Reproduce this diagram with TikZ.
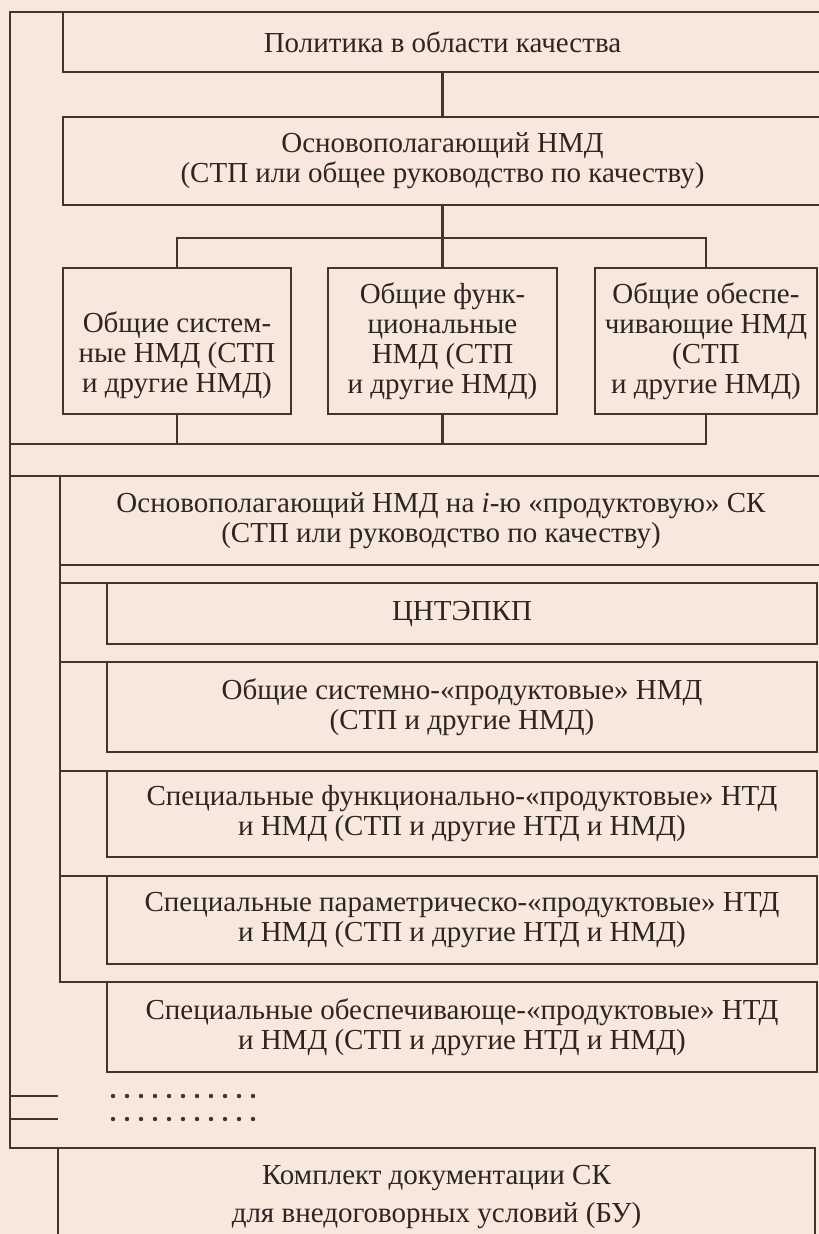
\documentclass[tikz,border=0pt]{standalone}
\usepackage{fontspec}
\setmainfont{Liberation Serif}
\definecolor{paper}{RGB}{247,231,220}
\definecolor{ink}{RGB}{64,54,46}
\definecolor{txt}{RGB}{44,37,33}

\begin{document}
\begin{tikzpicture}[x=1pt,y=-1pt,line width=2.5pt,color=ink,line join=miter,
  box/.style={draw,rectangle,anchor=north west,inner sep=0pt,outer sep=0pt,
    align=center,text=txt,font=\fontsize{29}{30}\selectfont},
  dotrow/.style={line width=4.4pt,line cap=round,dash pattern=on 0pt off 14pt}]
\path[use as bounding box,fill=paper] (0,0) rectangle (819,1234);

\node[box,minimum width=759pt,minimum height=60pt] (pol) at (63,12) {Политика в области качества};
\node[box,minimum width=759pt,minimum height=88pt] (osn) at (63,117) {Основополагающий НМД\\(СТП или общее руководство по качеству)};
\node[box,minimum width=228pt,minimum height=146pt] (gsys) at (63,268) {\\[20pt]Общие систем-\\ные НМД (СТП\\и другие НМД)};
\node[box,minimum width=229pt,minimum height=146pt] (gfun) at (328,268) {Общие функ-\\циональные\\НМД (СТП\\и другие НМД)};
\node[box,minimum width=222pt,minimum height=146pt] (gobs) at (595,268) {Общие обеспе-\\чивающие НМД\\(СТП\\и другие НМД)};

\node[box,minimum width=762pt,minimum height=89pt] (prod) at (60,476) {Основополагающий НМД на \textit{i}-ю «продуктовую» СК\\(СТП или руководство по качеству)};
\node[box,minimum width=710pt,minimum height=61pt] (cntr) at (107,583) {ЦНТЭПКП};
\node[box,minimum width=710pt,minimum height=90pt] (sysprod) at (107,662) {Общие системно-«продуктовые» НМД\\(СТП и другие НМД)};
\node[box,minimum width=710pt,minimum height=86pt] (funprod) at (107,771) {Специальные функционально-«продуктовые» НТД\\и НМД (СТП и другие НТД и НМД)};
\node[box,minimum width=710pt,minimum height=88pt] (parprod) at (107,876) {Специальные параметрическо-«продуктовые» НТД\\и НМД (СТП и другие НТД и НМД)};
\node[box,minimum width=710pt,minimum height=90pt] (obes) at (107,982) {Специальные обеспечивающе-«продуктовые» НТД\\и НМД (СТП и другие НТД и НМД)};
\node[box,minimum width=757pt,minimum height=98pt,font=\fontsize{29}{38}\selectfont] (kompl) at (58,1148) {Комплект документации СК\\для внедоговорных условий (БУ)};

\coordinate (bus) at (0,238);
\coordinate (join) at (10,444);
\coordinate (ftop) at (10,12);
\coordinate (fbot) at (10,1148);
\coordinate (ibot) at (60,982);
\coordinate (d1) at (58,1096);
\coordinate (d2) at (58,1119);

\draw (pol.south) -- (osn.north);
\draw (osn.south) -- (gfun.north);
\draw (gsys.north) -- (gsys.north |- bus) -| (gobs.north);
\draw (gsys.south) -- (gsys.south |- join);
\draw (gfun.south) -- (gfun.south |- join);
\draw (join) -- (gobs.south |- join) -- (gobs.south);

\draw (pol.north west) -- (ftop) -- (fbot) -- (kompl.north west);
\draw (ftop |- prod.north) -- (prod.north west);
\draw (prod.south west) -- (ibot) -- (obes.north west);
\foreach \b in {cntr,sysprod,funprod,parprod}
  \draw (prod.west |- \b.north) -- (\b.north west);

\draw (ftop |- d1) -- (d1);
\draw (ftop |- d2) -- (d2);
\draw[dotrow] (113,1096) -- (254,1096);
\draw[dotrow] (113,1119) -- (254,1119);

\end{tikzpicture}
\end{document}
